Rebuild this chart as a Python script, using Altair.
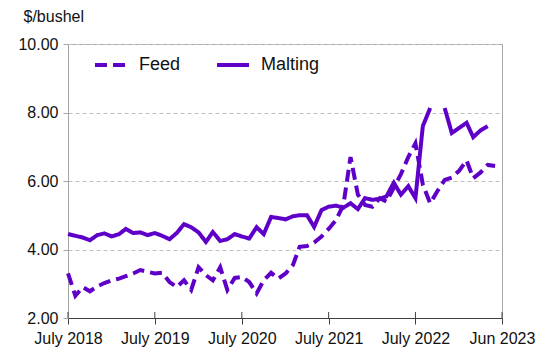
import altair as alt
import pandas as pd

series_names = ["Feed", "Malting"]

# monthly prices, July 2018 onward ($/bushel)
feed = [3.30, 2.65, 2.90, 2.78, 2.92, 3.02, 3.10, 3.15, 3.22, 3.30,
        3.40, 3.35, 3.30, 3.32, 3.05, 2.90, 3.10, 2.82, 3.48, 3.25,
        3.10, 3.48, 2.82, 3.17, 3.20, 3.05, 2.72, 3.10, 3.32, 3.15,
        3.30, 3.55, 4.08, 4.10, 4.20, 4.38, 4.60, 4.86, 5.30, 6.70,
        5.60, 5.30, 5.25, 5.50, 5.40, 5.80, 6.20, 6.70, 7.10, 5.90,
        5.35, 5.70, 6.03, 6.10, 6.30, 6.60, 6.08, 6.25, 6.47, 6.44]

malting = [4.45, 4.40, 4.35, 4.27, 4.42, 4.47, 4.38, 4.45, 4.60, 4.48,
           4.50, 4.42, 4.48, 4.40, 4.30, 4.48, 4.74, 4.65, 4.50, 4.22,
           4.51, 4.25, 4.30, 4.45, 4.38, 4.32, 4.65, 4.45, 4.95, 4.92,
           4.88, 4.97, 5.00, 5.00, 4.66, 5.15, 5.25, 5.28, 5.22, 5.35,
           5.18, 5.50, 5.45, 5.48, 5.55, 5.95, 5.60, 5.85, 5.50, 7.60,
           8.13, None, 8.13, 7.40, 7.55, 7.70, 7.28, 7.48, 7.60]

tick_labels = ["July 2018", "July 2019", "July 2020", "July 2021", "July 2022", "Jun 2023"]

months = pd.date_range("2018-07-01", periods=60, freq="MS")
rows = []
for name, vals in zip(series_names, (feed, malting)):
    seg = 0
    for d, v in zip(months, vals):
        if v is None:
            seg += 1
            continue
        rows.append({"date": d.strftime("%Y-%m-%d"), "price": v,
                     "series": name, "seg": f"{name}{seg}"})
df = pd.DataFrame(rows)

tick_dates = [alt.DateTime(year=y, month=7, date=1, utc=True) for y in range(2018, 2023)]
tick_dates.append(alt.DateTime(year=2023, month=6, date=30, utc=True))
tick_df = pd.DataFrame({"date": ["2018-07-01", "2019-07-01", "2020-07-01",
                                 "2021-07-01", "2022-07-01", "2023-06-30"]})

xscale = alt.Scale(type="utc", domain=[alt.DateTime(year=2018, month=7, date=1, utc=True),
                                       alt.DateTime(year=2023, month=6, date=30, utc=True)])
purple = "#5F00C8"

legend_opts = dict(title=None, orient="none", legendX=25, legendY=3,
                   direction="horizontal", symbolType="stroke",
                   symbolSize=1024, symbolStrokeWidth=4,
                   labelFontSize=18, labelFont="Liberation Sans",
                   labelColor="#111111", labelOffset=10, columnPadding=28)

lines = alt.Chart(df).mark_line(strokeWidth=4).encode(
    x=alt.X("date:T", scale=xscale,
            axis=alt.Axis(values=tick_dates, title=None, grid=False, labelFlush=False,
                          labelExpr="utcmonth(datum.value) == 5 ? utcFormat(datum.value, '%b %Y') : utcFormat(datum.value, '%B %Y')",
                          domainColor="#404040", tickColor="#404040", tickSize=6,
                          labelFontSize=16, labelColor="#111111", labelPadding=6,
                          labelFont="Liberation Sans", labelOverlap=False)),
    y=alt.Y("price:Q", scale=alt.Scale(domain=[2, 10], nice=False, zero=False),
            axis=alt.Axis(values=[2, 4, 6, 8, 10], format=".2f", title="$/bushel",
                          titleAngle=0, titleAlign="left", titleBaseline="alphabetic",
                          titleX=-45, titleY=-23, titleFontSize=16, titleFontWeight="normal",
                          titleFont="Liberation Sans", titleColor="#111111",
                          grid=True, gridDash=[4, 3], gridColor="#c0c0c0",
                          domainColor="#a6a6a6", tickColor="#a6a6a6", tickSize=5,
                          labelFontSize=16, labelPadding=5, labelColor="#111111",
                          labelFont="Liberation Sans")),
    color=alt.Color("series:N", scale=alt.Scale(domain=series_names, range=[purple, purple]),
                    legend=alt.Legend(**legend_opts)),
    strokeDash=alt.StrokeDash("series:N", scale=alt.Scale(domain=series_names, range=[[12, 6], [1, 0]]),
                              legend=alt.Legend(**legend_opts)),
    detail="seg:N",
)

ticks_up = alt.Chart(tick_df).mark_rule(color="#404040", strokeWidth=1).encode(
    x=alt.X("date:T", scale=xscale),
    y=alt.value(268),
    y2=alt.value(274),
)

chart = alt.layer(lines, ticks_up).properties(
    width=434, height=274,
    autosize=alt.AutoSizeParams(type="none"),
    padding={"left": 60, "top": 36, "right": 43, "bottom": 30},
    background="white",
).configure_view(stroke="#a6a6a6", strokeWidth=1)

chart.save("out.html", embed_options={"renderer": "svg", "actions": False})
